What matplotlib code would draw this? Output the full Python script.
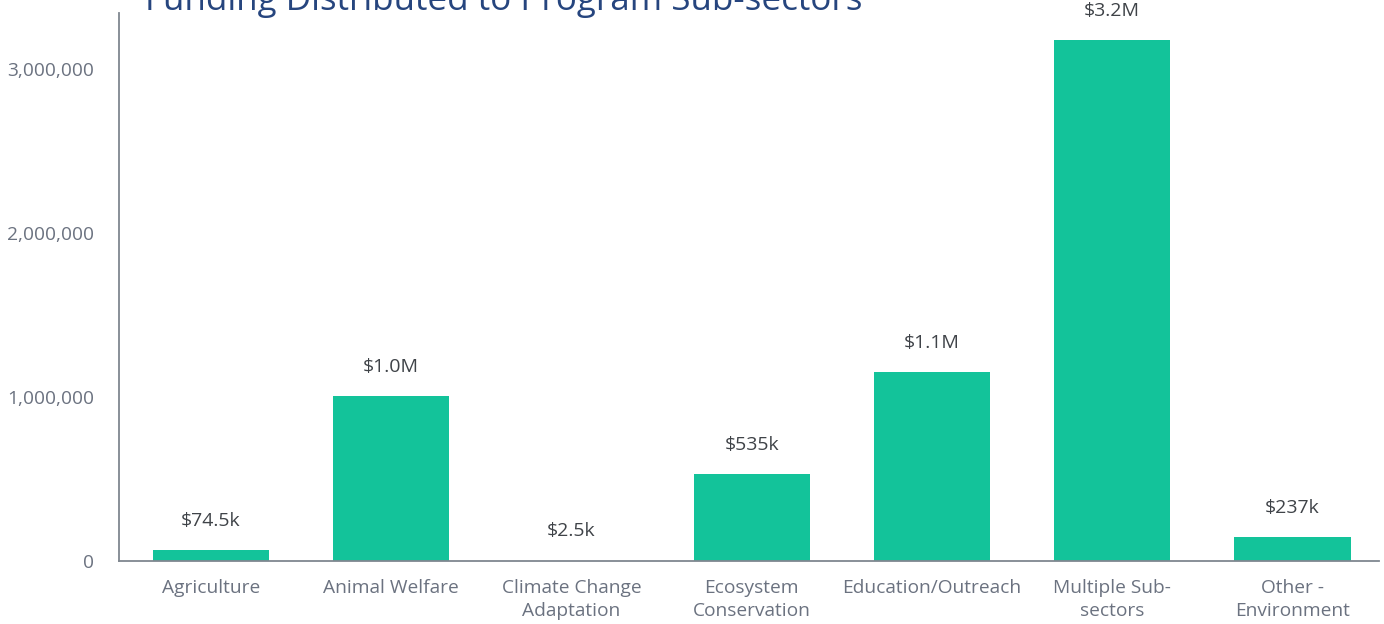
import numpy as np
import matplotlib
matplotlib.use("Agg")
import matplotlib.pyplot as plt
from matplotlib.ticker import FuncFormatter

plt.rcParams['font.family'] = ['Open Sans', 'DejaVu Sans']

# data
categories = ["Agriculture", "Animal Welfare", "Climate Change\nAdaptation",
              "Ecosystem\nConservation", "Education/Outreach",
              "Multiple Sub-\nsectors", "Other -\nEnvironment"]
amounts = [67000, 1006000, 2500, 530000, 1152000, 3177000, 146000]
amount_labels = ["$74.5k", "$1.0M", "$2.5k", "$535k", "$1.1M", "$3.2M", "$237k"]
y_ticks = [0, 1000000, 2000000, 3000000]
title = "Funding Distributed to Program Sub-sectors"

bar_color = "#13C39A"
tick_color = "#6B7280"
axis_color = "#7F8790"

fig = plt.figure(figsize=(13.84, 6.24), dpi=100)
ax = fig.add_axes([119 / 1384, 63 / 624, 1260 / 1384, 548 / 624])

x = np.arange(len(categories))
ax.bar(x, amounts, width=0.645, color=bar_color)

for xi, v, lab in zip(x, amounts, amount_labels):
    ax.annotate(lab, (xi, v), xytext=(0, 21), textcoords="offset points",
                ha="center", va="center", fontsize=14, color="#3F4348")

ax.set_xlim(-0.51, 6.48)
ax.set_ylim(0, 3.34e6)
ax.set_xticks(x)
ax.set_xticklabels(categories, fontsize=13.8, color=tick_color, linespacing=1.35)
ax.set_yticks(y_ticks)
ax.yaxis.set_major_formatter(FuncFormatter(lambda v, p: f"{int(v):,}"))
ax.tick_params(axis="y", length=0, pad=18, labelsize=13.8, labelcolor=tick_color)
ax.tick_params(axis="x", length=0, pad=13)

for s in ["top", "right"]:
    ax.spines[s].set_visible(False)
for s in ["left", "bottom"]:
    ax.spines[s].set_color(axis_color)
    ax.spines[s].set_linewidth(1.3)

fig.text(145 / 1384, (624 - 10) / 624, title, fontsize=25.2, color="#26457E",
         ha="left", va="baseline")

fig.savefig("out.png", dpi=100)
